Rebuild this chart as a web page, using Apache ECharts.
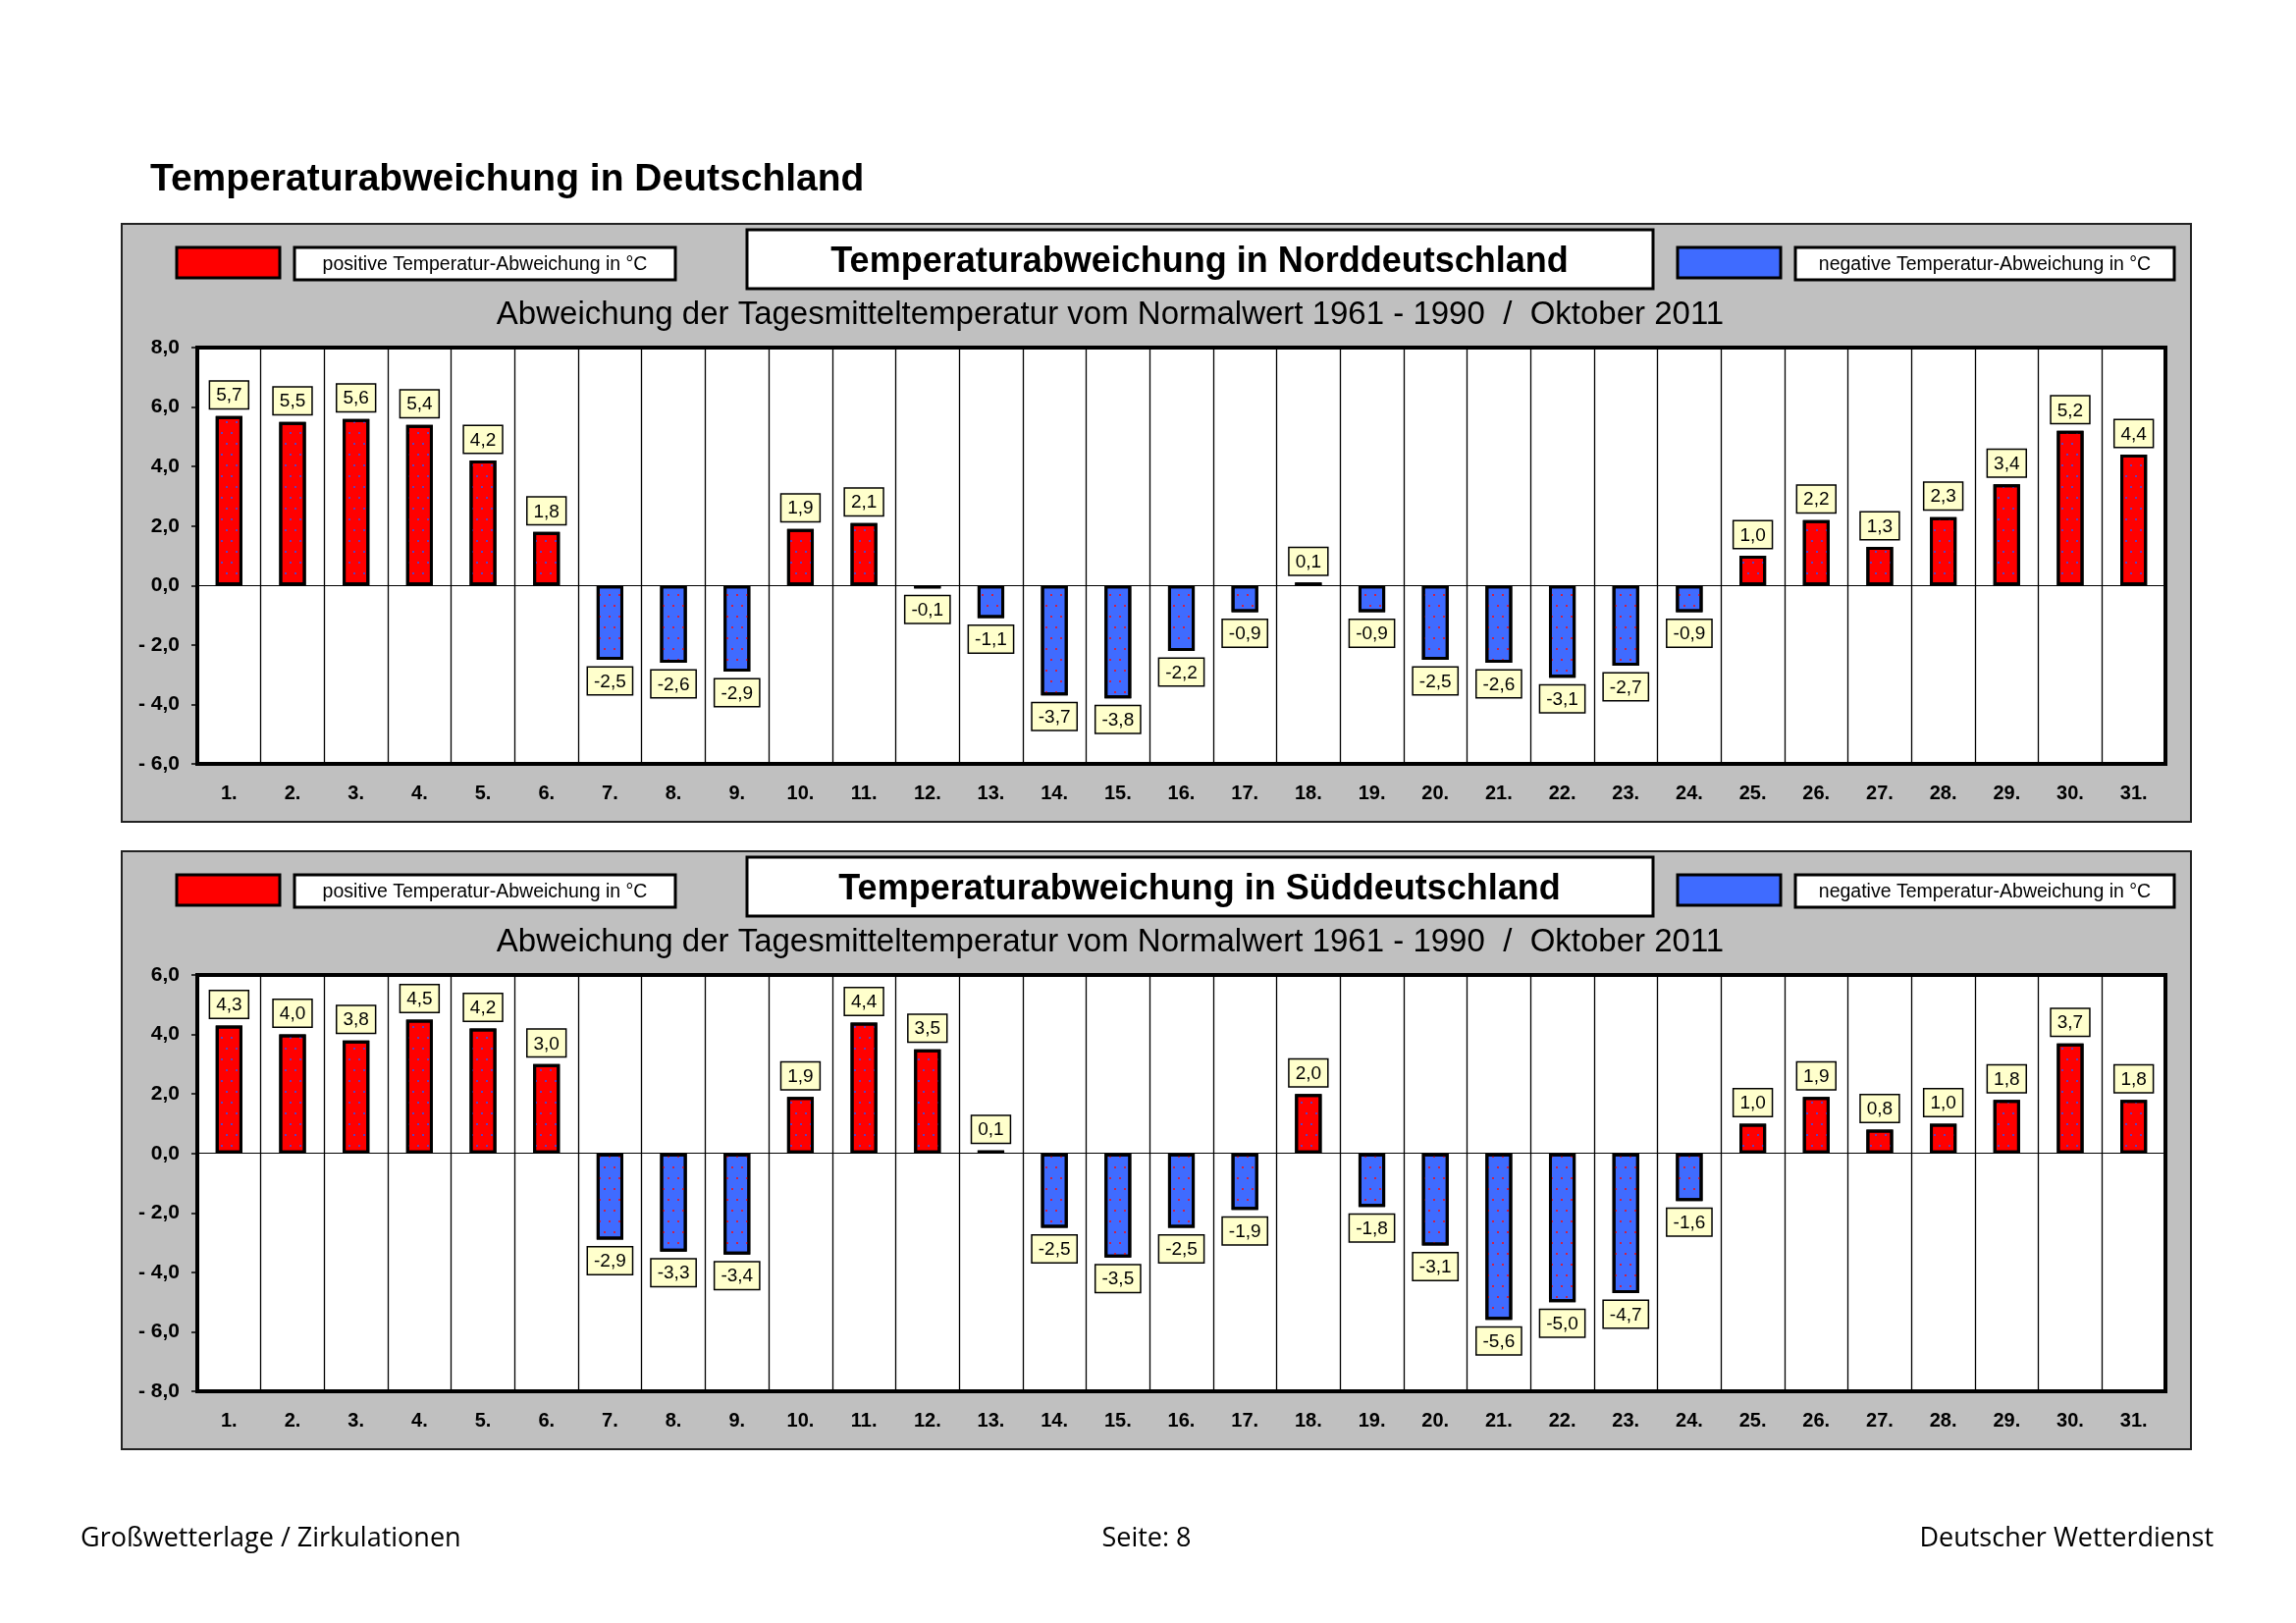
<!DOCTYPE html>
<html>
<head>
<meta charset="utf-8">
<script src="https://cdn.jsdelivr.net/npm/echarts@6/dist/echarts.min.js"></script>
<style>
html,body{margin:0;padding:0;background:#fff;}
#c{width:2339px;height:1653px;}
</style>
</head>
<body>
<div id="c"></div>
<script>
// ---- data ----
const days = ['1.','2.','3.','4.','5.','6.','7.','8.','9.','10.','11.','12.','13.','14.','15.','16.','17.','18.','19.','20.','21.','22.','23.','24.','25.','26.','27.','28.','29.','30.','31.'];
const northValues = [5.7,5.5,5.6,5.4,4.2,1.8,-2.5,-2.6,-2.9,1.9,2.1,-0.1,-1.1,-3.7,-3.8,-2.2,-0.9,0.1,-0.9,-2.5,-2.6,-3.1,-2.7,-0.9,1.0,2.2,1.3,2.3,3.4,5.2,4.4];
const southValues = [4.3,4.0,3.8,4.5,4.2,3.0,-2.9,-3.3,-3.4,1.9,4.4,3.5,0.1,-2.5,-3.5,-2.5,-1.9,2.0,-1.8,-3.1,-5.6,-5.0,-4.7,-1.6,1.0,1.9,0.8,1.0,1.8,3.7,1.8];
const northRange = {min:-6, max:8, interval:2};
const southRange = {min:-8, max:6, interval:2};
const mainTitle = 'Temperaturabweichung in Deutschland';
const panelTitles = ['Temperaturabweichung in Norddeutschland','Temperaturabweichung in Süddeutschland'];
const subTitle = 'Abweichung der Tagesmitteltemperatur vom Normalwert 1961 - 1990  /  Oktober 2011';
const legendPos = 'positive Temperatur-Abweichung in °C';
const legendNeg = 'negative Temperatur-Abweichung in °C';
const footer = ['Großwetterlage / Zirkulationen','Seite: 8','Deutscher Wetterdienst'];

const RED = '#FF0000', BLUE = '#3F6BFF';
const NARROW = '"Liberation Sans Narrow","Arial Narrow","Liberation Sans",Arial,sans-serif';
const SANS = '"Liberation Sans",Arial,sans-serif';

function fmt(v){ return v.toFixed(1).replace('.',','); }
function fmtAxis(v){ if (v < 0) return '- ' + fmt(-v); return fmt(v); }

const chart = echarts.init(document.getElementById('c'), null, {renderer:'canvas'});

const panels = [
  {values:northValues, range:northRange, off:0},
  {values:southValues, range:southRange, off:639}
];

const grids = [], xAxes = [], yAxes = [], series = [], graphics = [];

graphics.push({type:'text', x:153, y:183, style:{text:mainTitle, font:'bold 39px '+SANS, fill:'#000', textVerticalAlign:'middle'}});

panels.forEach((p, i) => {
  const o = p.off;
  graphics.push({type:'rect', z:-10, shape:{x:124, y:228+o, width:2108, height:609}, style:{fill:'#C0C0C0', stroke:'#222', lineWidth:2}});
  graphics.push({type:'rect', shape:{x:180, y:252+o, width:105, height:31}, style:{fill:RED, stroke:'#000', lineWidth:3}});
  graphics.push({type:'rect', shape:{x:300, y:252+o, width:388, height:33}, style:{fill:'#fff', stroke:'#000', lineWidth:3}});
  graphics.push({type:'text', x:494, y:270+o, style:{text:legendPos, font:'19.5px '+NARROW, fill:'#000', textAlign:'center', textVerticalAlign:'middle'}});
  graphics.push({type:'rect', shape:{x:761, y:234+o, width:923, height:60}, style:{fill:'#fff', stroke:'#000', lineWidth:3}});
  graphics.push({type:'text', x:1222, y:267+o, style:{text:panelTitles[i], font:'bold 36px '+SANS, fill:'#000', textAlign:'center', textVerticalAlign:'middle'}});
  graphics.push({type:'rect', shape:{x:1709, y:252+o, width:105, height:31}, style:{fill:BLUE, stroke:'#000', lineWidth:3}});
  graphics.push({type:'rect', shape:{x:1829, y:252+o, width:386, height:33}, style:{fill:'#fff', stroke:'#000', lineWidth:3}});
  graphics.push({type:'text', x:2022, y:270+o, style:{text:legendNeg, font:'19.5px '+NARROW, fill:'#000', textAlign:'center', textVerticalAlign:'middle'}});
  graphics.push({type:'text', x:1131, y:321+o, style:{text:subTitle, font:'33px '+NARROW, fill:'#000', textAlign:'center', textVerticalAlign:'middle'}});

  grids.push({left:201, top:354+o, width:2005, height:424, show:true, backgroundColor:'#fff', borderColor:'#000', borderWidth:4, containLabel:false});
  xAxes.push({type:'category', gridIndex:i, data:days, boundaryGap:true,
    axisLine:{show:false, onZero:false}, axisTick:{show:false},
    axisLabel:{margin:20, fontSize:20, fontWeight:'bold', color:'#000', fontFamily:SANS},
    splitLine:{show:true, interval:0, lineStyle:{color:'#000', width:1.3}}});
  yAxes.push({type:'value', gridIndex:i, min:p.range.min, max:p.range.max, interval:p.range.interval,
    axisLine:{show:false}, axisTick:{show:true, inside:false, length:6, lineStyle:{color:'#000', width:1.5}},
    splitLine:{show:false},
    axisLabel:{margin:18, fontSize:21, fontWeight:'bold', color:'#000', fontFamily:SANS, formatter:fmtAxis}});

  const pos = p.values.map(v => v >= 0 ? v : '-');
  const neg = p.values.map(v => v < 0 ? v : '-');
  const lbl = (position) => ({show:true, position:position, distance:8,
      formatter: d => fmt(d.value), fontSize:19, fontFamily:NARROW, color:'#000',
      backgroundColor:'#FFFFCC', borderColor:'#000', borderWidth:1.5, padding:[5,6,3,6]});
  series.push({type:'bar', name:'pos'+i, xAxisIndex:i, yAxisIndex:i, data:pos, barWidth:'42%', barGap:'-100%',
    itemStyle:{color:RED, borderColor:'#000', borderWidth:3,
      decal:{symbol:'rect', symbolSize:1, color:'rgba(70,70,220,0.85)', dashArrayX:[[2,8],[0,5,2,3]], dashArrayY:[2,9], rotation:0}},
    label:lbl('top'), animation:false,
    markLine:{silent:true, symbol:'none', label:{show:false}, lineStyle:{color:'#000', width:1.2, type:'solid'}, data:[{yAxis:0}]}});
  series.push({type:'bar', name:'neg'+i, xAxisIndex:i, yAxisIndex:i, data:neg, barWidth:'42%', barGap:'-100%',
    itemStyle:{color:BLUE, borderColor:'#000', borderWidth:3,
      decal:{symbol:'rect', symbolSize:1, color:'rgba(230,20,40,0.85)', dashArrayX:[[2,8],[0,5,2,3]], dashArrayY:[2,9], rotation:0}},
    label:lbl('bottom'), animation:false});
});

const FOOT = '27px "Open Sans",sans-serif';
graphics.push({type:'text', x:82, y:1567, style:{text:footer[0], font:FOOT, fill:'#000', textAlign:'left', textVerticalAlign:'middle'}});
graphics.push({type:'text', x:1168, y:1567, style:{text:footer[1], font:FOOT, fill:'#000', textAlign:'center', textVerticalAlign:'middle'}});
graphics.push({type:'text', x:2255, y:1567, style:{text:footer[2], font:FOOT, fill:'#000', textAlign:'right', textVerticalAlign:'middle'}});

chart.setOption({
  backgroundColor:'#fff',
  animation:false,
  aria:{enabled:true, decal:{show:true}},
  grid:grids, xAxis:xAxes, yAxis:yAxes, series:series, graphic:graphics
});
</script>
</body>
</html>
